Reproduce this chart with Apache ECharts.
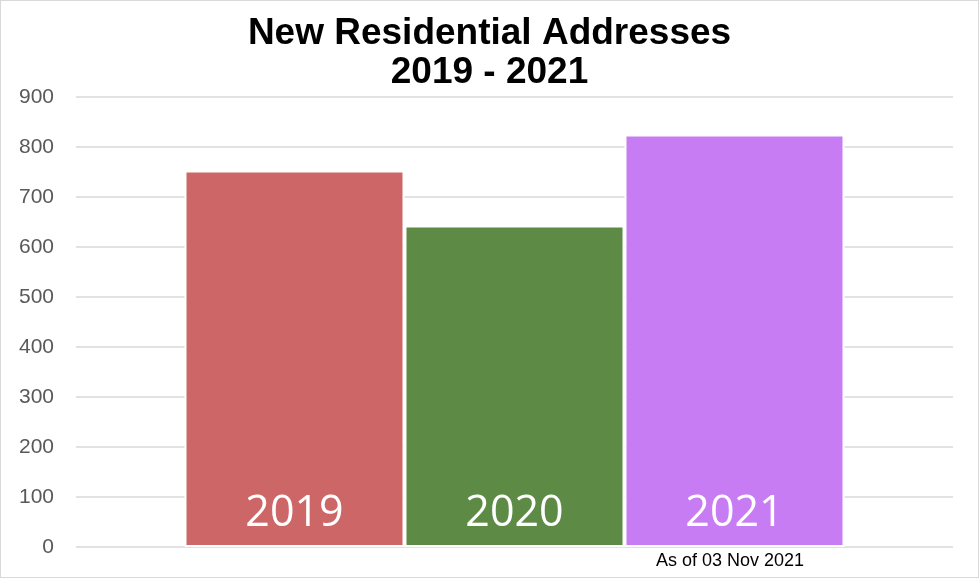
<!DOCTYPE html>
<html>
<head>
<meta charset="utf-8">
<script src="https://cdn.jsdelivr.net/npm/echarts@6/dist/echarts.min.js"></script>
<style>
html,body{margin:0;padding:0;background:#fff;}
#wrap{position:relative;width:979px;height:578px;}
#c{width:979px;height:578px;}
#frame{position:absolute;left:0;top:0;width:979px;height:578px;box-sizing:border-box;border:1px solid #d9d9d9;pointer-events:none;}
</style>
</head>
<body>
<div id="wrap"><div id="c"></div><div id="frame"></div></div>
<script>
var categories = ['Addresses'];
var seriesNames = ['2019', '2020', '2021'];
var values2019 = [753];
var values2020 = [643];
var values2021 = [825];
var colors = ['#CD6666', '#5D8A45', '#C87CF3'];
var yTicks = {min: 0, max: 900, interval: 100};
var titleText = 'New Residential Addresses\n2019 - 2021';
var noteText = 'As of 03 Nov 2021';

var allValues = [values2019, values2020, values2021];
var chart = echarts.init(document.getElementById('c'), null, {renderer: 'canvas'});
var series = seriesNames.map(function (name, i) {
  return {
    name: name,
    type: 'bar',
    data: allValues[i],
    barWidth: 220,
    barGap: '0%',
    itemStyle: {color: colors[i], borderColor: '#fff', borderWidth: 2},
    label: {
      show: true,
      position: 'insideBottom',
      distance: 12,
      formatter: name,
      color: '#fff',
      fontSize: 43,
      fontFamily: 'Open Sans'
    },
    emphasis: {disabled: true}
  };
});
chart.setOption({
  animation: false,
  title: {
    text: titleText,
    left: 'center',
    top: 9,
    textStyle: {fontFamily: 'Liberation Sans', fontWeight: 'bold', fontSize: 37, color: '#000', lineHeight: 39}
  },
  grid: {left: 76, right: 26, top: 97, bottom: 31},
  xAxis: {
    type: 'category',
    data: categories,
    axisLine: {show: false},
    axisTick: {show: false},
    axisLabel: {show: false}
  },
  yAxis: {
    type: 'value',
    min: yTicks.min,
    max: yTicks.max,
    interval: yTicks.interval,
    axisLine: {show: false},
    axisTick: {show: false},
    axisLabel: {color: '#595959', fontSize: 21, fontFamily: 'Liberation Sans', margin: 22},
    splitLine: {lineStyle: {color: '#d9d9d9', width: 1.5}}
  },
  series: series,
  graphic: [{
    type: 'text',
    left: 656,
    top: 552,
    style: {text: noteText, fontSize: 18, fontFamily: 'Liberation Sans', fill: '#000'}
  }]
});
</script>
</body>
</html>
